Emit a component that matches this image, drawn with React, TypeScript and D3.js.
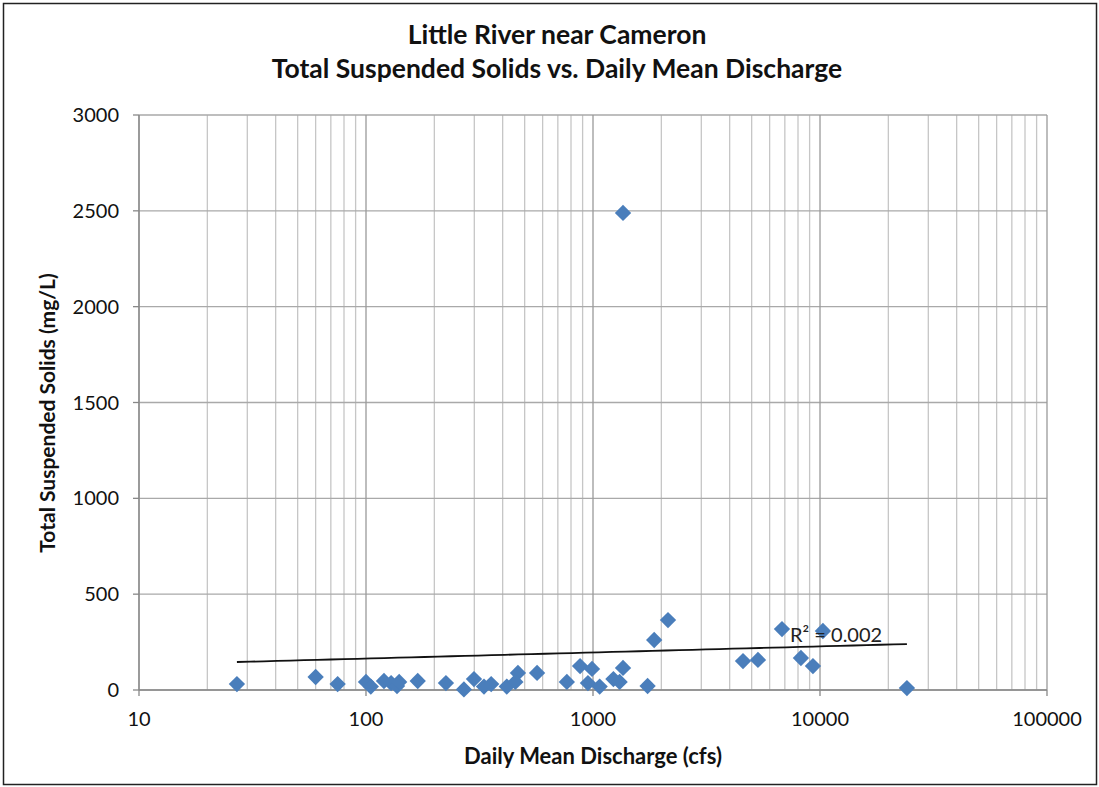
import React from "react";
import * as d3 from "d3";

// daily mean discharge (cfs) and total suspended solids (mg/L)
const discharge = [
  27, 60, 75, 100, 105, 120, 129, 137, 140, 169, 225, 270, 299, 331, 356, 417,
  467, 455, 567, 767, 877, 950, 990, 1070, 1230, 1310, 1356, 1356, 1740, 1860,
  2140, 4580, 5330, 6800, 8240, 9310, 10300, 24150,
];
const tss = [
  31, 68, 31, 42, 18, 47, 36, 21, 42, 47, 36, 3, 57, 18, 31, 18,
  89, 42, 89, 42, 125, 36, 110, 18, 57, 42, 115, 2489, 21, 261,
  365, 151, 157, 318, 167, 125, 308, 10,
];

// logarithmic trendline y = a*ln(x) + b
const trendSlope = 13.8;
const trendIntercept = 100.5;

const xTicks = [10, 100, 1000, 10000, 100000];
const yTicks = [0, 500, 1000, 1500, 2000, 2500, 3000];
const titleLines = ["Little River near Cameron", "Total Suspended Solids vs. Daily Mean Discharge"];
const rSquaredLabel = "R² = 0.002";

const W = 1099;
const H = 787;
const margin = { top: 115, right: 52, bottom: 97, left: 139 };
const font = "Lato, 'Open Sans', sans-serif";

export default function App() {
  const x = d3.scaleLog().domain([10, 100000]).range([margin.left, W - margin.right]);
  const y = d3.scaleLinear().domain([0, 3000]).range([H - margin.bottom, margin.top]);

  // minor log gridlines 2..9 in each decade
  const minor: number[] = [];
  for (let d = 10; d < 100000; d *= 10) {
    for (let k = 2; k <= 9; k++) minor.push(d * k);
  }

  const xMin = d3.min(discharge)!;
  const xMax = d3.max(discharge)!;
  const trend = d3
    .range(0, 51)
    .map((i) => xMin * Math.pow(xMax / xMin, i / 50))
    .map((v) => [x(v), y(trendIntercept + trendSlope * Math.log(v))] as [number, number]);

  const diamond = d3.symbol().type(d3.symbolDiamond2).size(170)()!;

  const x0 = margin.left;
  const x1 = W - margin.right;
  const y0 = H - margin.bottom;
  const y1 = margin.top;

  return (
    <svg width={W} height={H} style={{ position: "absolute", left: 0, top: 0 }} fontFamily={font}>
      <rect x={0} y={0} width={W} height={H} fill="#fff" />
      <rect x={3.5} y={3.5} width={W - 6} height={H - 6} fill="none" stroke="#222" strokeWidth={1.5} />

      {/* minor vertical gridlines */}
      {minor.map((v) => (
        <line key={"m" + v} x1={x(v)} x2={x(v)} y1={y1} y2={y0} stroke="#c6c6c6" strokeWidth={1.3} />
      ))}
      {/* horizontal gridlines */}
      {yTicks.map((v) => (
        <line key={"h" + v} x1={x0} x2={x1} y1={y(v)} y2={y(v)} stroke="#a9a9a9" strokeWidth={1.3} />
      ))}
      {/* major vertical gridlines */}
      {xTicks.map((v) => (
        <line key={"M" + v} x1={x(v)} x2={x(v)} y1={y1} y2={y0} stroke="#9a9a9a" strokeWidth={1.3} />
      ))}

      {/* axes */}
      <line x1={x0} x2={x1} y1={y0} y2={y0} stroke="#888" strokeWidth={1.3} />
      <line x1={x0} x2={x0} y1={y1} y2={y0} stroke="#888" strokeWidth={1.3} />
      {xTicks.map((v) => (
        <line key={"xt" + v} x1={x(v)} x2={x(v)} y1={y0} y2={y0 + 6} stroke="#888" strokeWidth={1.3} />
      ))}
      {yTicks.map((v) => (
        <line key={"yt" + v} x1={x0 - 6} x2={x0} y1={y(v)} y2={y(v)} stroke="#888" strokeWidth={1.3} />
      ))}

      {xTicks.map((v) => (
        <text key={"xl" + v} x={x(v)} y={y0 + 36} textAnchor="middle" fontSize={20} fill="#111">
          {v}
        </text>
      ))}
      {yTicks.map((v) => (
        <text key={"yl" + v} x={x0 - 20} y={y(v) + 7} textAnchor="end" fontSize={20} fill="#111">
          {v}
        </text>
      ))}

      {/* points */}
      {discharge.map((v, i) => (
        <path
          key={"p" + i}
          d={diamond}
          transform={`translate(${x(v)},${y(tss[i])})`}
          fill="#4a7ebb"
        />
      ))}

      {/* trendline */}
      <path d={d3.line()(trend)!} fill="none" stroke="#111" strokeWidth={1.8} />
      <text x={790} y={642} fontSize={20} fill="#222">
        {rSquaredLabel}
      </text>

      {/* titles */}
      {titleLines.map((t, i) => (
        <text key={t} x={557} y={44 + i * 34} textAnchor="middle" fontSize={26.5} fontWeight="bold" fill="#111">
          {t}
        </text>
      ))}
      <text x={593} y={764} textAnchor="middle" fontSize={22} fontWeight="bold" fill="#111">
        Daily Mean Discharge (cfs)
      </text>
      <text
        transform={`translate(55,413) rotate(-90)`}
        textAnchor="middle"
        fontSize={21}
        fontWeight="bold"
        fill="#111"
      >
        Total Suspended Solids (mg/L)
      </text>
    </svg>
  );
}
